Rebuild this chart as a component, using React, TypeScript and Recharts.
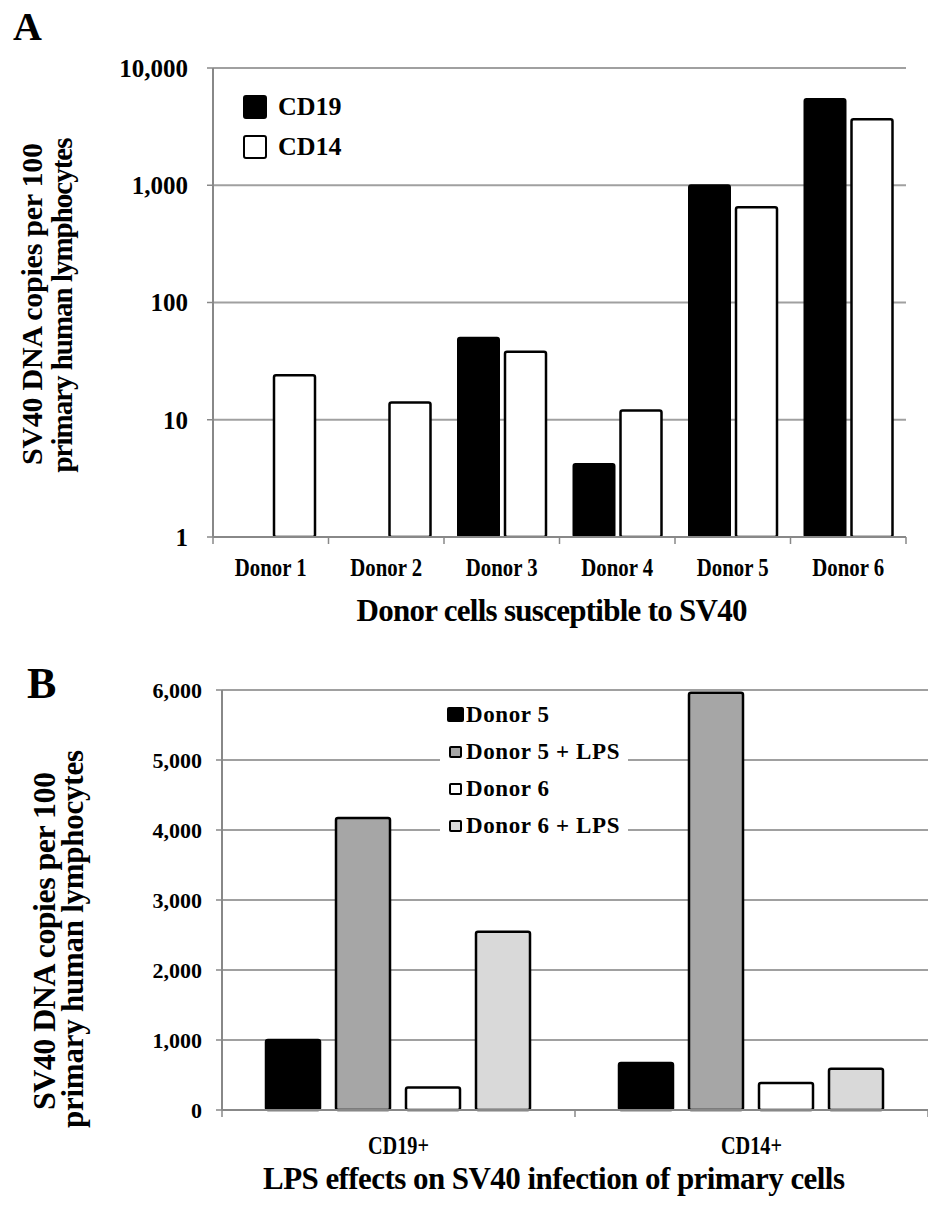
import { BarChart, Bar, XAxis, YAxis, CartesianGrid, Legend } from 'recharts';

// Panel A: SV40 DNA copies per donor (log scale)
const donors = ['Donor 1', 'Donor 2', 'Donor 3', 'Donor 4', 'Donor 5', 'Donor 6'];
const cd19 = [null, null, 50, 4.2, 1000, 5430];
const cd14 = [24, 14, 38, 12, 650, 3660];
const logTicks = [1, 10, 100, 1000, 10000];
const seriesA = ['CD19', 'CD14'];

// Panel B: LPS effect
const cellTypes = ['CD19+', 'CD14+'];
const donor5 = [1000, 670];
const donor5Lps = [4170, 5960];
const donor6 = [320, 385];
const donor6Lps = [2545, 590];
const linearTicks = [0, 1000, 2000, 3000, 4000, 5000, 6000];
const seriesB = ['Donor 5', 'Donor 5 + LPS', 'Donor 6', 'Donor 6 + LPS'];

const dataA = donors.map((d, i) => ({ donor: d, cd19: cd19[i], cd14: cd14[i] }));
const dataB = cellTypes.map((c, i) => ({
  cell: c,
  d5: donor5[i],
  d5lps: donor5Lps[i],
  d6: donor6[i],
  d6lps: donor6Lps[i],
}));

const FONT = '"Liberation Serif", "Times New Roman", serif';
const GRID = '#a0a0a0';
const AXIS = '#888';

const fmt = (v: number) => String(v).replace(/\B(?=(\d{3})+(?!\d))/g, ',');

// plot geometry (used for axis/tick placement only)
const A_LEFT = 213;
const A_RIGHT = 906;
const B_LEFT = 222;
const B_RIGHT = 928;

function CategoryTick(props: any) {
  const { x, y, payload, index, count, plotWidth, offset, scaleX, fontSize } = props;
  const half = plotWidth / count / 2;
  return (
    <g>
      <line x1={x - half} x2={x - half} y1={y} y2={y + 7} stroke={AXIS} strokeWidth={1.5} />
      {index === count - 1 && (
        <line x1={x + half} x2={x + half} y1={y} y2={y + 7} stroke={AXIS} strokeWidth={1.5} />
      )}
      <text
        transform={`translate(${x},${y + offset}) scale(${scaleX},1)`}
        textAnchor="middle"
        fontFamily={FONT}
        fontWeight="bold"
        fontSize={fontSize}
        fill="#000"
      >
        {payload.value}
      </text>
    </g>
  );
}

function LegendA({ payload }: any) {
  return (
    <div style={{ fontFamily: FONT, fontWeight: 'bold', fontSize: 26 }}>
      {(payload || []).map((entry: any, i: number) => (
        <div key={i} style={{ display: 'flex', alignItems: 'center', height: 40 }}>
          <span
            style={{
              display: 'inline-block',
              width: 20,
              height: 20,
              background: entry.color,
              border: '2.5px solid #000',
              borderRadius: 3,
              marginRight: 11,
            }}
          />
          <span>{entry.value}</span>
        </div>
      ))}
    </div>
  );
}

function LegendB({ payload }: any) {
  return (
    <div
      style={{
        fontFamily: FONT,
        fontWeight: 'bold',
        fontSize: 23,
        letterSpacing: 0.6,
        background: '#fff',
        width: 188,
        paddingLeft: 7,
        boxSizing: 'border-box',
      }}
    >
      {(payload || []).map((entry: any, i: number) => (
        <div key={i} style={{ display: 'flex', alignItems: 'center', height: 37 }}>
          <span
            style={{
              display: 'inline-block',
              width: i === 0 ? 13 : 9,
              height: i === 0 ? 11 : 8,
              background: entry.color,
              border: '2.5px solid #000',
              borderRadius: 2,
              marginRight: i === 0 ? 2 : 4,
              marginLeft: i === 0 ? 0 : 2,
            }}
          />
          <span>{entry.value}</span>
        </div>
      ))}
    </div>
  );
}

export default function App() {
  return (
    <div style={{ position: 'absolute', left: 0, top: 0, width: 928, height: 1206, background: '#fff' }}>
      <div style={{ position: 'absolute', left: 0, top: 0 }}>
        <BarChart
          width={928}
          height={620}
          data={dataA}
          margin={{ top: 68, right: 22, left: 0, bottom: 33 }}
          barCategoryGap={14}
          barGap={6}
        >
          <CartesianGrid vertical={false} stroke={GRID} strokeWidth={2} />
          <XAxis
            dataKey="donor"
            height={50}
            interval={0}
            tickSize={0}
            tickMargin={0}
            axisLine={{ stroke: AXIS, strokeWidth: 2 }}
            tick={
              <CategoryTick
                count={donors.length}
                plotWidth={A_RIGHT - A_LEFT}
                offset={39}
                scaleX={0.8}
                fontSize={26}
              />
            }
          />
          <YAxis
            width={A_LEFT}
            scale="log"
            type="number"
            domain={[1, 10000]}
            ticks={logTicks}
            allowDataOverflow
            tickFormatter={fmt}
            tickSize={6}
            tickMargin={19}
            axisLine={{ stroke: AXIS, strokeWidth: 2 }}
            tickLine={{ stroke: AXIS, strokeWidth: 1.5 }}
            tick={{ fill: '#000', fontSize: 25, fontWeight: 'bold', fontFamily: FONT }}
          />
          <YAxis
            yAxisId="frame"
            orientation="right"
            width={0}
            tick={false}
            tickLine={false}
            axisLine={{ stroke: GRID, strokeWidth: 2 }}
          />
          <Legend
            layout="vertical"
            verticalAlign="middle"
            align="center"
            itemSorter={(item: any) => seriesA.indexOf(item.value)}
            content={<LegendA />}
            wrapperStyle={{ left: 243, top: 87, width: 'auto' }}
          />
          <Bar dataKey="cd19" name={seriesA[0]} fill="#000" stroke="#000" strokeWidth={2} radius={2} isAnimationActive={false} />
          <Bar dataKey="cd14" name={seriesA[1]} fill="#fff" stroke="#000" strokeWidth={2.5} radius={2} isAnimationActive={false} />
        </BarChart>
      </div>

      <div style={{ position: 'absolute', left: 0, top: 620 }}>
        <BarChart
          width={928}
          height={586}
          data={dataB}
          margin={{ top: 70, right: 0, left: 0, bottom: 36 }}
          barCategoryGap={44}
          barGap={16}
        >
          <CartesianGrid vertical={false} stroke={GRID} strokeWidth={2} />
          <XAxis
            dataKey="cell"
            height={60}
            interval={0}
            tickSize={0}
            tickMargin={0}
            axisLine={{ stroke: AXIS, strokeWidth: 2 }}
            tick={
              <CategoryTick
                count={cellTypes.length}
                plotWidth={B_RIGHT - B_LEFT}
                offset={44}
                scaleX={0.78}
                fontSize={26}
              />
            }
          />
          <YAxis
            width={B_LEFT}
            type="number"
            domain={[0, 6000]}
            ticks={linearTicks}
            tickFormatter={fmt}
            tickSize={6}
            tickMargin={14}
            axisLine={{ stroke: AXIS, strokeWidth: 2 }}
            tickLine={{ stroke: AXIS, strokeWidth: 1.5 }}
            tick={{ fill: '#000', fontSize: 22, fontWeight: 'bold', fontFamily: FONT }}
          />
          <Legend
            layout="vertical"
            verticalAlign="middle"
            align="center"
            itemSorter={(item: any) => seriesB.indexOf(item.value)}
            content={<LegendB />}
            wrapperStyle={{ left: 440, top: 76, width: 'auto' }}
          />
          <Bar dataKey="d5" name={seriesB[0]} fill="#000" stroke="#000" strokeWidth={2.5} radius={2} isAnimationActive={false} />
          <Bar dataKey="d5lps" name={seriesB[1]} fill="#a6a6a6" stroke="#000" strokeWidth={2.5} radius={2} isAnimationActive={false} />
          <Bar dataKey="d6" name={seriesB[2]} fill="#fff" stroke="#000" strokeWidth={2.5} radius={2} isAnimationActive={false} />
          <Bar dataKey="d6lps" name={seriesB[3]} fill="#d9d9d9" stroke="#000" strokeWidth={2.5} radius={2} isAnimationActive={false} />
        </BarChart>
      </div>

      <svg
        width={928}
        height={1206}
        style={{ position: 'absolute', left: 0, top: 0, pointerEvents: 'none' }}
        fontFamily={FONT}
        fontWeight="bold"
      >
        <text x={13} y={40} fontSize={40}>A</text>
        <text x={27} y={698} fontSize={44}>B</text>

        <text transform="translate(42,304) rotate(-90)" textAnchor="middle" fontSize={30} textLength={322} lengthAdjust="spacing">
          SV40 DNA copies per 100
        </text>
        <text transform="translate(72,305) rotate(-90)" textAnchor="middle" fontSize={29} textLength={335} lengthAdjust="spacing">
          primary human lymphocytes
        </text>
        <text x={552} y={621} textAnchor="middle" fontSize={31} textLength={391} lengthAdjust="spacing">
          Donor cells susceptible to SV40
        </text>

        <text transform="translate(55,941) rotate(-90)" textAnchor="middle" fontSize={32} textLength={338} lengthAdjust="spacing">
          SV40 DNA copies per 100
        </text>
        <text transform="translate(83,939) rotate(-90)" textAnchor="middle" fontSize={31} textLength={378} lengthAdjust="spacing">
          primary human lymphocytes
        </text>
        <text x={554} y={1189} textAnchor="middle" fontSize={31} textLength={582} lengthAdjust="spacing">
          LPS effects on SV40 infection of primary cells
        </text>
      </svg>
    </div>
  );
}
